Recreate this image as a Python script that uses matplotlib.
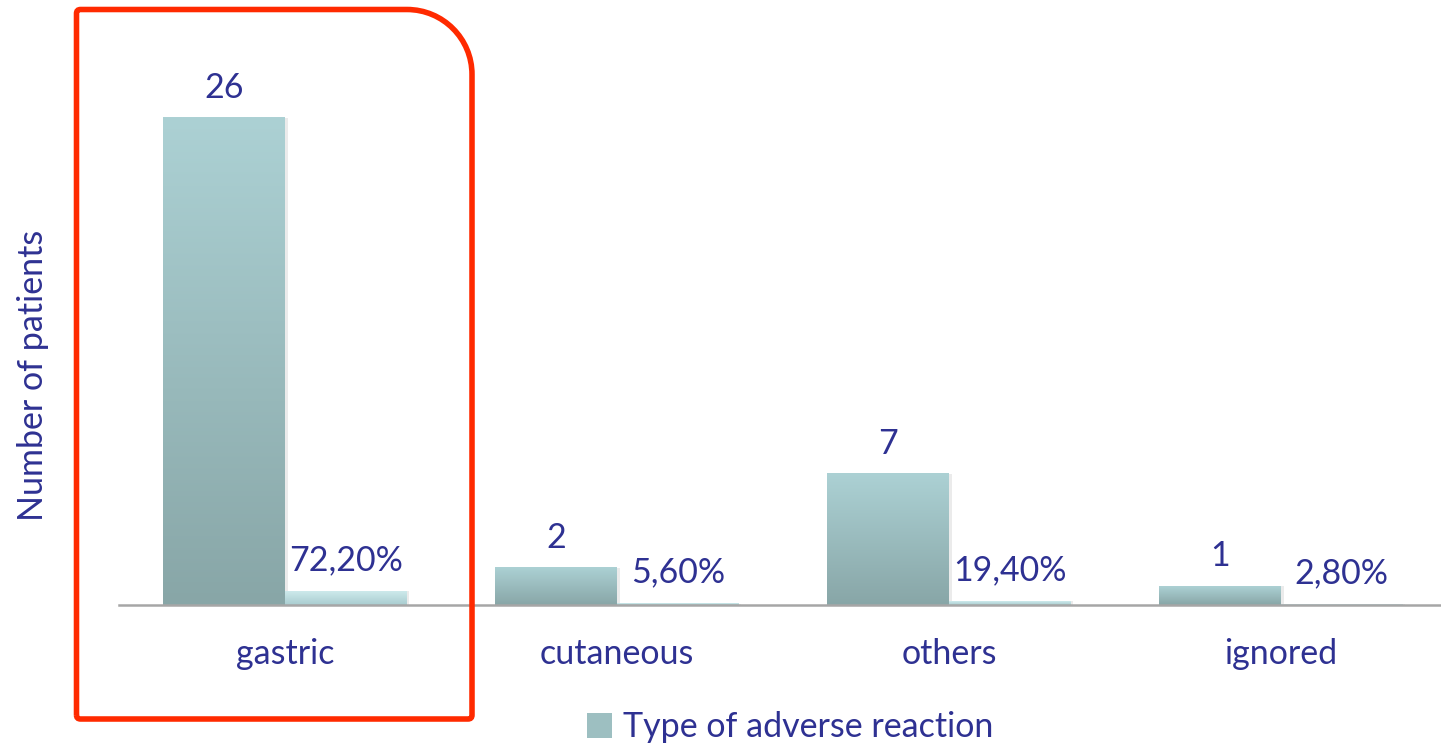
import matplotlib
matplotlib.use("Agg")
import matplotlib.pyplot as plt
import numpy as np
from matplotlib.path import Path
from matplotlib.patches import PathPatch, Patch
from matplotlib.colors import LinearSegmentedColormap

# data
categories = ["gastric", "cutaneous", "others", "ignored"]
counts = [26, 2, 7, 1]
shares = [0.722, 0.056, 0.194, 0.028]
share_labels = ["72,20%", "5,60%", "19,40%", "2,80%"]

plt.rcParams['font.family'] = ['Lato', 'DejaVu Sans']
txt_col = '#2e3192'
fs = 24.5

fig = plt.figure(figsize=(14.41, 7.47), dpi=100)
ax = fig.add_axes([119/1441, 142/747, 1328/1441, 562/747])

x = np.arange(len(categories))
w = 0.366
cmap_main = LinearSegmentedColormap.from_list("m", ["#88a6a7", "#acd1d4"])
cmap_light = LinearSegmentedColormap.from_list("l", ["#a9cccf", "#cdeaec"])
grad = np.linspace(0, 1, 256).reshape(-1, 1)

b1 = ax.bar(x - w/2, counts, w, color='none', edgecolor='none')
b2 = ax.bar(x + w/2, shares, w, color='none', edgecolor='none')

def fill_grad(bars, cmap):
    for r in bars:
        x0, y0 = r.get_x(), r.get_y()
        # soft shadow on the right
        ax.bar(x0 + r.get_width()/2 + 0.008, r.get_height(), r.get_width(),
               color='#000000', alpha=0.08, zorder=1.5)
        ax.imshow(grad, extent=[x0, x0 + r.get_width(), y0, y0 + r.get_height()],
                  origin='lower', aspect='auto', cmap=cmap, clip_path=r, zorder=2)

fill_grad(b1, cmap_main)
fill_grad(b2, cmap_light)

for r, v in zip(b1, counts):
    ax.annotate(str(v), (r.get_x() + r.get_width()/2, r.get_height()),
                xytext=(0, 10), textcoords='offset points', ha='center', va='bottom',
                fontsize=fs, color=txt_col)
for r, s in zip(b2, share_labels):
    ax.annotate(s, (r.get_x() + r.get_width()/2, r.get_height()),
                xytext=(0, 11), textcoords='offset points', ha='center', va='bottom',
                fontsize=fs, color=txt_col)

ax.set_xlim(-0.5, len(categories) - 0.5)
ax.set_ylim(0, 30)
ax.set_xticks(x)
ax.set_xticklabels(categories, fontsize=fs, color=txt_col)
ax.tick_params(axis='x', length=0, pad=24)
ax.set_yticks([])
for sp in ['top', 'right', 'left']:
    ax.spines[sp].set_visible(False)
ax.spines['bottom'].set_color('#a6a6a6')
ax.spines['bottom'].set_linewidth(1.8)
ax.spines['bottom'].set_zorder(3)

fig.text(33/1441, 1 - 375/747, "Number of patients", rotation=90, ha='center', va='center',
         fontsize=fs, color=txt_col)

leg = fig.legend(handles=[Patch(facecolor='#9dbfc1', edgecolor='none')],
                 labels=["Type of adverse reaction"], loc='center',
                 bbox_to_anchor=(790/1441, 1 - 727/747), frameon=False,
                 fontsize=fs, handlelength=0.75, handleheight=0.75, handletextpad=0.3)
for t in leg.get_texts():
    t.set_color(txt_col)

# red highlight box (pixel coords -> inches)
L, R, T, B, rad, r0 = 76.5, 472, 9.5, 719, 65, 4
k = 0.5523
verts = [
    (L, B - r0), (L, T + r0),
    (L, T), (L + r0, T),
    (R - rad, T),
    (R - rad + k*rad, T), (R, T + rad - k*rad), (R, T + rad),
    (R, B - r0),
    (R, B), (R - r0, B),
    (L + r0, B),
    (L, B), (L, B - r0),
]
codes = [Path.MOVETO, Path.LINETO,
         Path.CURVE3, Path.CURVE3,
         Path.LINETO,
         Path.CURVE4, Path.CURVE4, Path.CURVE4,
         Path.LINETO,
         Path.CURVE3, Path.CURVE3,
         Path.LINETO,
         Path.CURVE3, Path.CURVE3]
verts_in = [(vx/100, (747 - vy)/100) for vx, vy in verts]
box = PathPatch(Path(verts_in, codes), transform=fig.dpi_scale_trans,
                facecolor='none', edgecolor='#ff2a00', linewidth=4, zorder=5)
fig.patches.append(box)

fig.savefig("out.png", dpi=100)
